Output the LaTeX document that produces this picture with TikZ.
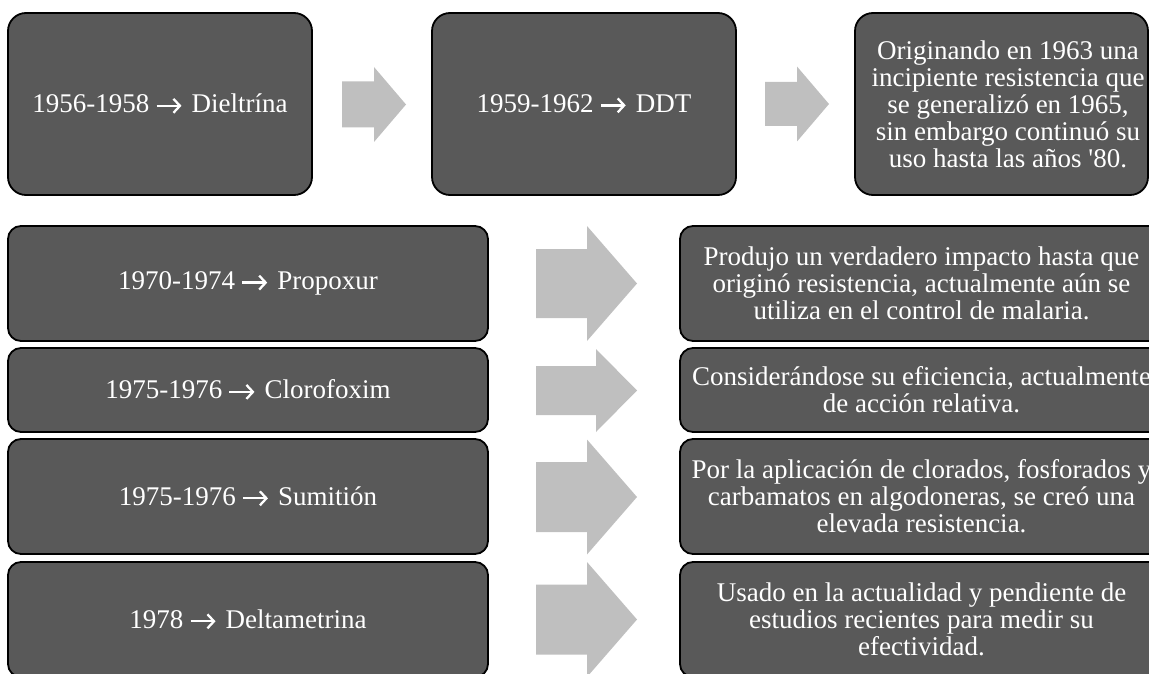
\documentclass[tikz,border=0pt]{standalone}
\usepackage{fontspec}
\usetikzlibrary{arrows.meta}
\setmainfont{Liberation Serif}
\definecolor{boxfill}{HTML}{595959}
\definecolor{arrfill}{HTML}{BFBFBF}
% block arrow: x-start, head-start, tip, y-centre, head half height, body half height
\newcommand\blkarrow[6]{%
  \fill[arrfill] (#1,#4-#6) -- (#2,#4-#6) -- (#2,#4-#5) -- (#3,#4)
    -- (#2,#4+#5) -- (#2,#4+#6) -- (#1,#4+#6) -- cycle;}
% inline text arrow, as printed between years and names
\newcommand\txtarrow{\hspace{6pt}\tikz[baseline=0pt]\draw[white, line width=2.3pt,
  -{Straight Barb[length=6.5pt, width=14pt]}] (0pt,7pt) -- (25pt,7pt);\hspace{9pt}}
\tikzset{
  darkbox/.style={draw=black, line width=1.8pt, fill=boxfill, text=white,
    rounded corners=#1, inner sep=0pt, align=center,
    font=\fontsize{27}{27}\selectfont},
  darkbox/.default=13pt,
}
\begin{document}
\begin{tikzpicture}[x=1pt,y=-1pt]
\useasboundingbox (0,0) rectangle (1149,674);
\clip (0,0) rectangle (1149,674);
% ---- top row ----
\node[darkbox=18pt, minimum width=304pt, minimum height=182pt] (t1) at (160,104) {1956-1958\txtarrow Dieltrína};
\node[darkbox=18pt, minimum width=304pt, minimum height=182pt] (t2) at (584,104) {1959-1962\txtarrow DDT};
\node[darkbox=18pt, minimum width=293pt, minimum height=182pt] (t3) at (1001.5,104) {};
\node[text=white, align=center, font=\fontsize{27}{27}\selectfont] (t3txt) at (1008,104)
  {Originando en 1963 una\\incipiente resistencia que\\se generalizó en 1965,\\sin embargo continuó su\\uso hasta las años \textquotesingle 80.};
\blkarrow{342}{374}{406}{104.5}{37.5}{23}
\blkarrow{765}{797}{829}{104}{37.5}{22}
% ---- lower rows: left boxes ----
\node[darkbox, minimum width=480pt, minimum height=115pt] (l1) at (248,283.5) {1970-1974\txtarrow Propoxur};
\node[darkbox, minimum width=480pt, minimum height=84pt] (l2) at (248,390) {1975-1976\txtarrow Clorofoxim};
\node[darkbox, minimum width=480pt, minimum height=115pt] (l3) at (248,496.5) {1975-1976\txtarrow Sumitión};
\node[darkbox, minimum width=480pt, minimum height=115pt] (l4) at (248,619.5) {1978\txtarrow Deltametrina};
% ---- lower rows: right boxes ----
\node[darkbox, minimum width=483pt, minimum height=115pt] (r1) at (921.5,283.5)
  {Produjo un verdadero impacto hasta que\\originó resistencia, actualmente aún se\\utiliza en el control de malaria.};
\node[darkbox, minimum width=483pt, minimum height=84pt] (r2) at (921.5,390)
  {Considerándose su eficiencia, actualmente\\de acción relativa.};
\node[darkbox, minimum width=483pt, minimum height=115pt] (r3) at (921.5,496.5)
  {Por la aplicación de clorados, fosforados y\\carbamatos en algodoneras, se creó una\\elevada resistencia.};
\node[darkbox, minimum width=483pt, minimum height=115pt] (r4) at (921.5,619.5)
  {Usado en la actualidad y pendiente de\\estudios recientes para medir su\\efectividad.};
% ---- lower arrows ----
\blkarrow{536}{587}{637}{283.5}{57.5}{34.5}
\blkarrow{536}{596}{637}{390.5}{41.5}{24.5}
\blkarrow{536}{587}{637}{497}{57.5}{35}
\blkarrow{536}{587}{637}{619.5}{57.5}{35}
\end{tikzpicture}
\end{document}
